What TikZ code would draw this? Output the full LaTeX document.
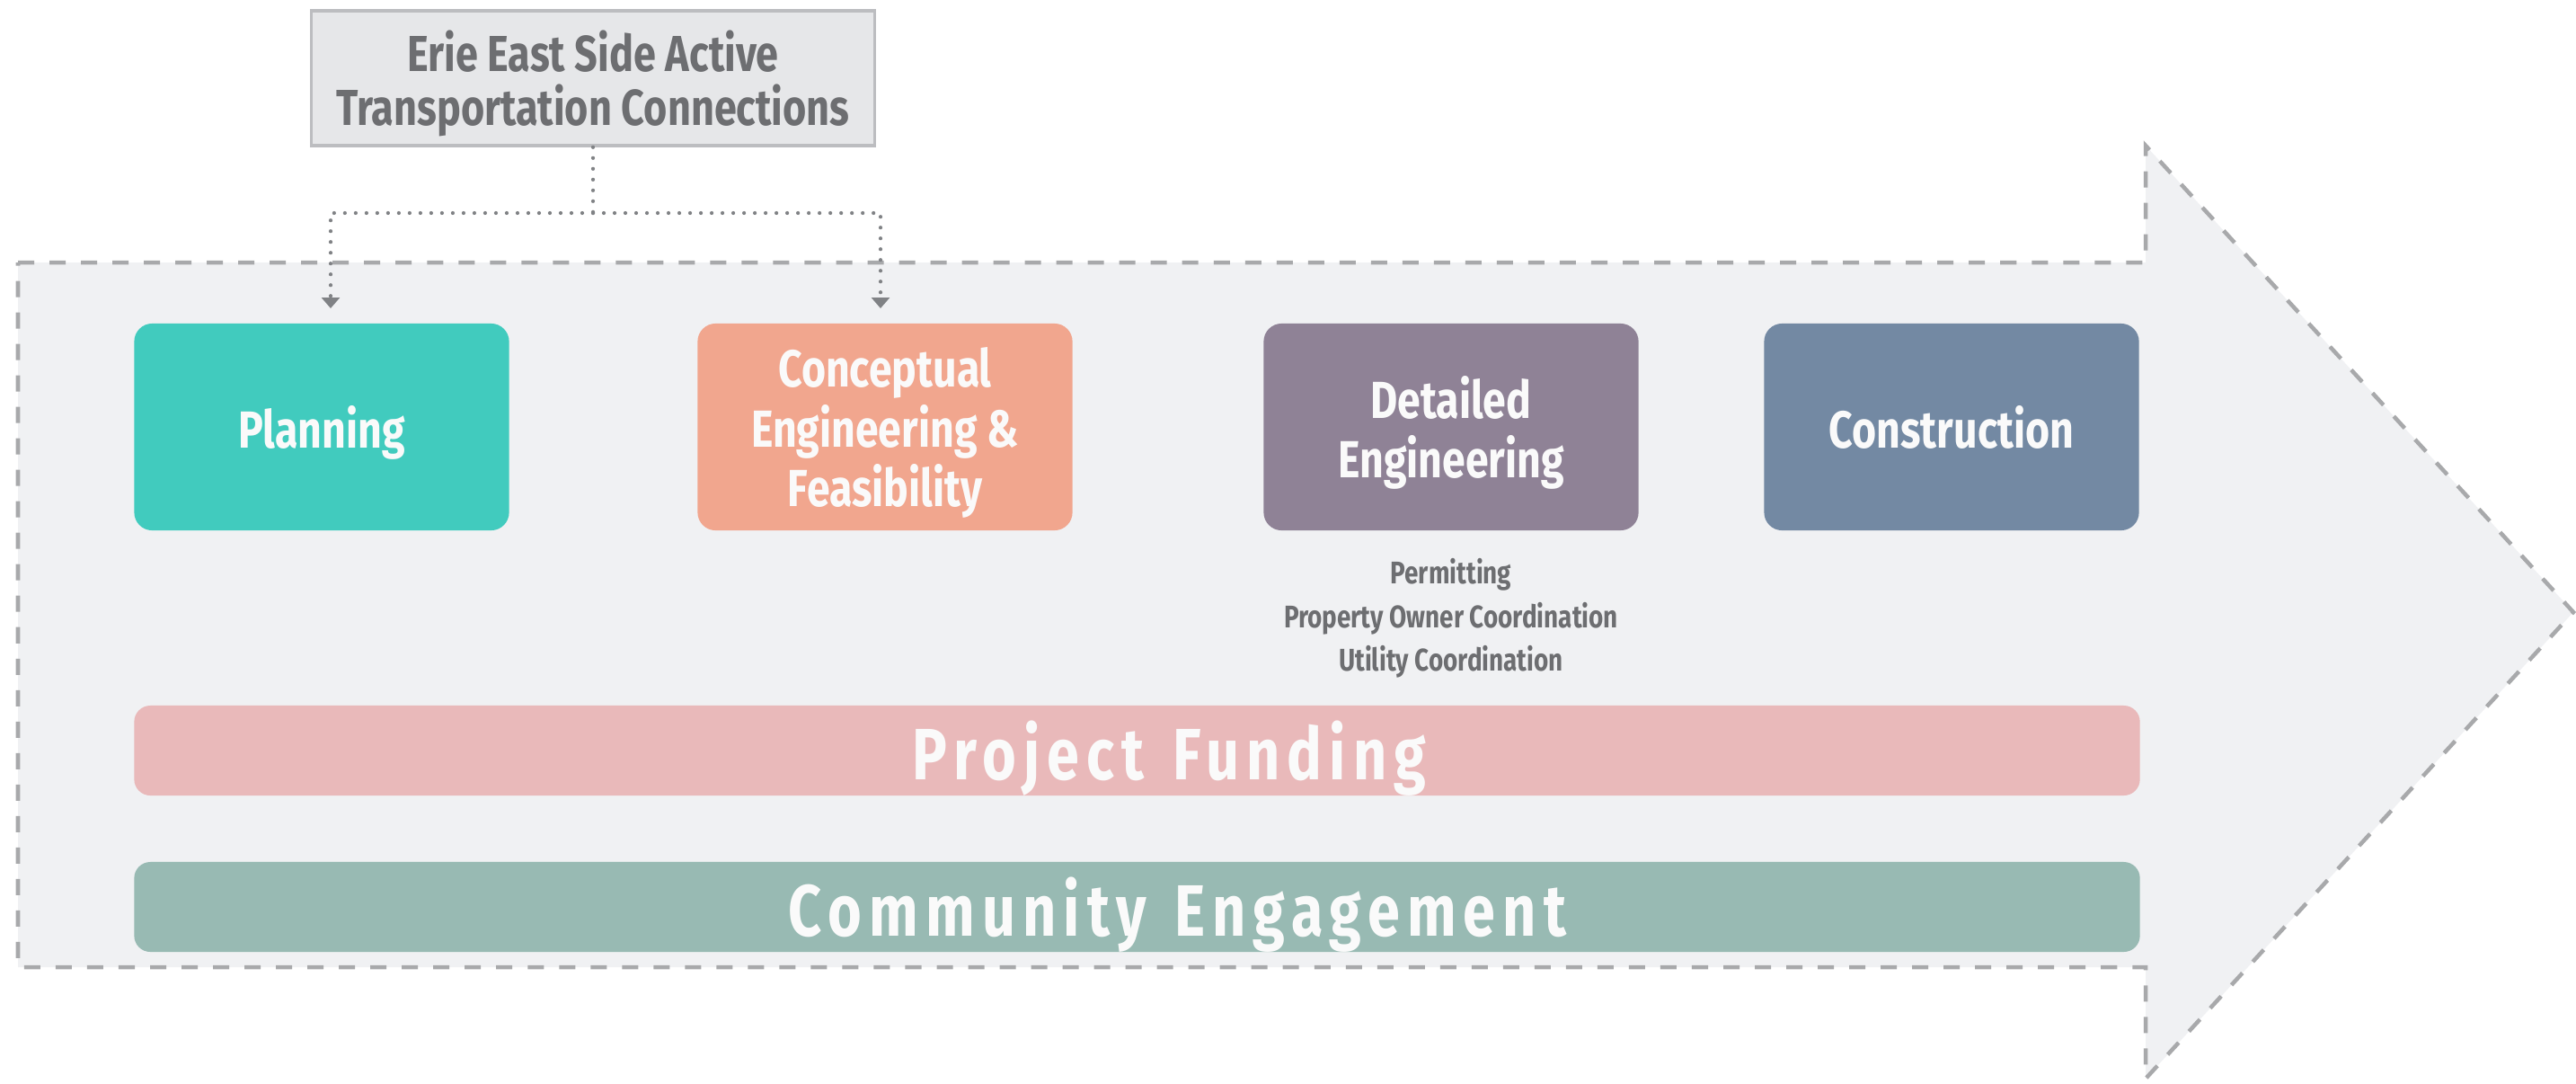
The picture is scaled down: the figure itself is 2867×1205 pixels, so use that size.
\documentclass[tikz,border=0pt]{standalone}
\usepackage{fontspec}
\setmainfont{Fira Sans}[FakeStretch=0.8]
\newfontfamily\barfont{Fira Sans}[FakeStretch=0.8,LetterSpace=10]
\usetikzlibrary{arrows.meta}
\definecolor{plancol}{RGB}{65,203,190}
\definecolor{conccol}{RGB}{241,166,142}
\definecolor{detcol}{RGB}{143,130,150}
\definecolor{conscol}{RGB}{115,137,163}
\definecolor{fundcol}{RGB}{233,185,186}
\definecolor{commcol}{RGB}{152,186,179}
\definecolor{arrowfill}{RGB}{240,241,243}
\definecolor{dashcol}{RGB}{168,169,171}
\definecolor{topfill}{RGB}{230,231,233}
\definecolor{topline}{RGB}{188,189,192}
\definecolor{txtgray}{RGB}{109,110,113}
\definecolor{dotcol}{RGB}{128,130,133}
\definecolor{whitetxt}{RGB}{250,250,250}
\begin{document}
\begin{tikzpicture}[x=0.01cm,y=-0.01cm,
  bigarrow/.style={fill=arrowfill,draw=dashcol,line width=0.045cm,dash pattern=on 0.18cm off 0.17cm},
  topbox/.style={fill=topfill,draw=topline,line width=0.035cm,minimum width=6.27cm,minimum height=1.50cm,
    inner sep=0pt,align=center,text=txtgray,text depth=0pt,font=\bfseries\fontsize{16}{17}\selectfont},
  phase/.style={rounded corners=0.2cm,minimum width=4.17cm,minimum height=2.30cm,inner sep=0pt,
    align=center,text=whitetxt,text depth=0pt,font=\bfseries\fontsize{16.5}{18.9}\selectfont},
  subtext/.style={align=center,text=txtgray,inner sep=0pt,text depth=0pt,font=\bfseries\fontsize{9.9}{13.8}\selectfont},
  bar/.style={rounded corners=0.18cm,minimum width=22.31cm,minimum height=1.0cm,inner sep=0pt,
    text=whitetxt,text depth=0pt,font=\barfont\bfseries\fontsize{23}{27}\selectfont},
  dots/.style={draw=dotcol,line width=0.042cm,line cap=round,dash pattern=on 0pt off 0.12cm},
  tip/.style={-{Triangle[width=0.2cm,length=0.12cm,fill=dotcol]}}
]
\useasboundingbox (0,0) rectangle (2867,1205);
\fill[white] (0,0) rectangle (2867,1205);
\draw[bigarrow] (20,292) -- (2388,292) -- (2388,162) -- (2864,681) -- (2388,1200) -- (2388,1076) -- (20,1076) -- cycle;

\node[topbox] (src) at (660,87) {Erie East Side Active\\Transportation Connections};

\node[phase,fill=plancol] (plan) at (358,475) {Planning};
\node[phase,fill=conccol] (conc) at (985,475) {Conceptual\\Engineering \&\\Feasibility};
\node[phase,fill=detcol] (det) at (1615,475) {Detailed\\Engineering};
\node[phase,fill=conscol] (cons) at (2172,475) {Construction};

\node[subtext] (tasks) at (1615,684) {Permitting\\Property Owner Coordination\\Utility Coordination};

\node[bar,fill=fundcol] (fund) at (1265.5,835) {\hspace*{0.72cm}Project\hspace{0.08cm} Funding};
\node[bar,fill=commcol] (comm) at (1265.5,1009) {\hspace*{0.9cm}Community\hspace{0.08cm} Engagement};

\coordinate (jn) at (660,237);
\coordinate (a1) at (368,343);
\coordinate (a2) at (980,343);
\draw[dots] (src.south) -- (jn);
\draw[dots,tip] (jn) -| (a1);
\draw[dots,tip] (jn) -| (a2);
\end{tikzpicture}
\end{document}
